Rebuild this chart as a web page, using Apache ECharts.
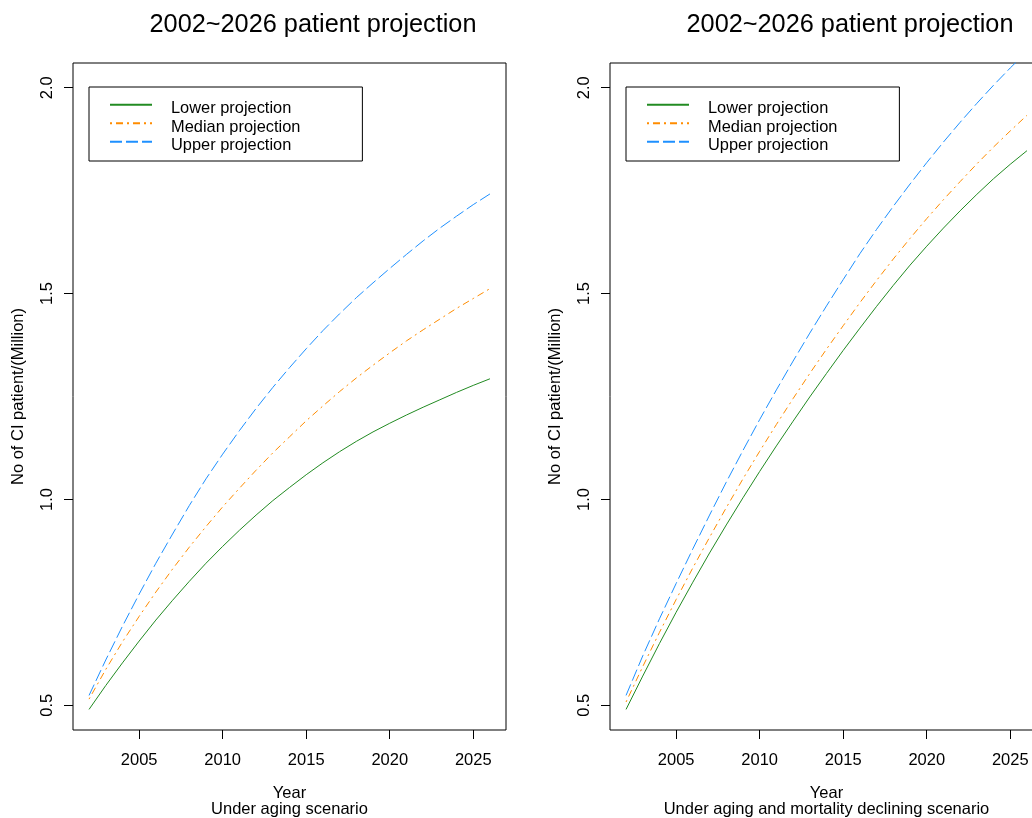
<!DOCTYPE html>
<html><head><meta charset="utf-8">
<script src="https://cdn.jsdelivr.net/npm/echarts@6/dist/echarts.min.js"></script>
<style>html,body{margin:0;padding:0;background:#fff}#c{width:1032px;height:818px}</style>
</head><body><div id="c"></div>
<script>
const years = [2002,2003,2004,2005,2006,2007,2008,2009,2010,2011,2012,2013,2014,2015,2016,2017,2018,2019,2020,2021,2022,2023,2024,2025,2026];
// Panel 1: under aging scenario
const lowerAging  = [0.490,0.548,0.603,0.656,0.707,0.755,0.801,0.845,0.886,0.925,0.962,0.997,1.029,1.060,1.089,1.116,1.141,1.164,1.185,1.205,1.224,1.242,1.260,1.277,1.293];
const medianAging = [0.515,0.587,0.654,0.716,0.775,0.831,0.884,0.934,0.982,1.027,1.071,1.113,1.152,1.191,1.227,1.262,1.295,1.326,1.356,1.385,1.412,1.438,1.464,1.488,1.512];
const upperAging  = [0.524,0.610,0.692,0.770,0.845,0.916,0.985,1.050,1.110,1.167,1.221,1.272,1.320,1.366,1.410,1.451,1.490,1.526,1.561,1.595,1.628,1.659,1.688,1.716,1.742];
// Panel 2: under aging and mortality declining scenario
const lowerDecl  = [0.490,0.571,0.650,0.726,0.799,0.870,0.938,1.004,1.068,1.130,1.190,1.249,1.306,1.362,1.416,1.469,1.520,1.569,1.615,1.659,1.701,1.741,1.779,1.814,1.847];
const medianDecl = [0.508,0.594,0.677,0.757,0.834,0.908,0.980,1.050,1.117,1.182,1.245,1.306,1.365,1.422,1.478,1.532,1.584,1.634,1.682,1.728,1.772,1.815,1.856,1.895,1.933];
const upperDecl  = [0.524,0.620,0.710,0.796,0.880,0.962,1.042,1.119,1.194,1.266,1.336,1.404,1.470,1.534,1.597,1.656,1.712,1.766,1.818,1.868,1.916,1.962,2.006,2.048,2.088];

const seriesNames = ['Lower projection','Median projection','Upper projection'];
const xTicks = [2005,2010,2015,2020,2025];
const yTicks = [0.5,1.0,1.5,2.0];
const panelTitles = ['2002~2026 patient projection','2002~2026 patient projection'];
const xNames = ['Year\nUnder aging scenario','Year\nUnder aging and mortality declining scenario'];
const yName = 'No of CI patient/(Million)';

const FONT = "'Liberation Sans', Arial, Helvetica, sans-serif";
const colors = ['#228B22','#FF8C00','#1E90FF'];
const dashes = ['solid',[2,4,7,4],[12,4]];

const chart = echarts.init(document.getElementById('c'), null, {renderer:'canvas'});

const grids = [
  {left:73, top:63, width:433, height:667},
  {left:610, top:63, width:433, height:667}
].map(g => Object.assign({show:true, borderColor:'#000', borderWidth:1, backgroundColor:'transparent',
  containLabel:false, outerBoundsMode:'none'}, g));

function xAxis(i){
  return {
    type:'value', gridIndex:i, min:2001.04, max:2026.96,
    name:xNames[i], nameLocation:'middle', nameGap:55,
    nameTextStyle:{fontFamily:FONT, fontSize:16.5, color:'#000', lineHeight:16},
    axisLine:{show:false},
    splitLine:{show:false},
    axisTick:{show:true, customValues:xTicks, length:9, lineStyle:{color:'#000', width:1}},
    axisLabel:{customValues:xTicks, fontFamily:FONT, fontSize:16.5, color:'#000', margin:22,
      formatter:v => String(Math.round(v))}
  };
}
function yAxis(i){
  return {
    type:'value', gridIndex:i, min:0.44, max:2.06,
    name:yName, nameLocation:'middle', nameGap:46,
    nameTextStyle:{fontFamily:FONT, fontSize:16.5, color:'#000'},
    axisLine:{show:false},
    splitLine:{show:false},
    axisTick:{show:true, customValues:yTicks, length:9, lineStyle:{color:'#000', width:1}},
    axisLabel:{customValues:yTicks, rotate:90, fontFamily:FONT, fontSize:16.5, color:'#000', margin:17,
      formatter:v => Number(v).toFixed(1)}
  };
}

function mk(name, data, idx, panel){
  return {
    name:name, type:'line', xAxisIndex:panel, yAxisIndex:panel,
    data:years.map((y,k)=>[y,data[k]]),
    symbol:'none', showSymbol:false, smooth:false, clip:true,
    lineStyle:{color:colors[idx], width:1, type:dashes[idx]},
    itemStyle:{color:colors[idx]},
    emphasis:{disabled:true}, animation:false
  };
}

function legend(left){
  return {
    show:true, orient:'vertical', left:left, top:87,
    data:seriesNames.slice(),
    selectedMode:false,
    itemWidth:42, itemHeight:18.5, itemGap:-5.5,
    padding:[5.7,62,7.3,20],
    borderColor:'#000', borderWidth:1, backgroundColor:'#fff',
    itemStyle:{color:'rgba(0,0,0,0)', borderColor:'rgba(0,0,0,0)', borderWidth:0, opacity:0},
    formatter:n => '{t|' + n + '}',
    textStyle:{fontFamily:FONT, fontSize:16.4, color:'#000',
      rich:{t:{fontFamily:FONT, fontSize:16.4, color:'#000', lineHeight:10.5, padding:[8,0,0,14]}}}
  };
}

chart.setOption({
  animation:false,
  backgroundColor:'#fff',
  title:[
    {text:panelTitles[0], left:308, top:8, textAlign:'center', textStyle:{fontFamily:FONT, fontSize:25.3, fontWeight:'normal', color:'#000'}},
    {text:panelTitles[1], left:845, top:8, textAlign:'center', textStyle:{fontFamily:FONT, fontSize:25.3, fontWeight:'normal', color:'#000'}}
  ],
  legend:[legend(89), legend(626)],
  grid:grids,
  xAxis:[xAxis(0), xAxis(1)],
  yAxis:[yAxis(0), yAxis(1)],
  series:[
    mk(seriesNames[0], lowerAging, 0, 0),
    mk(seriesNames[1], medianAging, 1, 0),
    mk(seriesNames[2], upperAging, 2, 0),
    mk(seriesNames[0], lowerDecl, 0, 1),
    mk(seriesNames[1], medianDecl, 1, 1),
    mk(seriesNames[2], upperDecl, 2, 1)
  ]
});
</script>
</body></html>
